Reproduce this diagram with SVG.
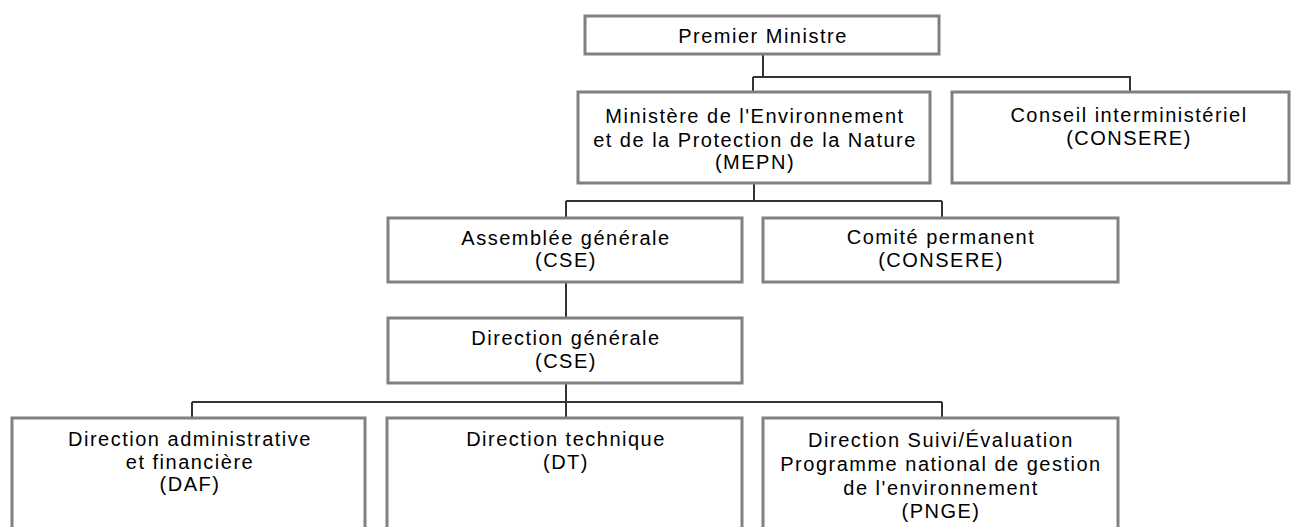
<svg xmlns="http://www.w3.org/2000/svg" width="1292" height="527" viewBox="0 0 1292 527">
<style>
.box{fill:#fff;stroke:#808080;stroke-width:3}
.lbl{font-family:"Liberation Sans",Arial,sans-serif;font-size:20px;letter-spacing:1.5px;fill:#000;text-anchor:middle}
.con{fill:none;stroke:#333;stroke-width:2}
</style>
<rect width="1292" height="527" fill="#fff"/>
<g id="connectors">
<path class="con" d="M763 54V77M753 77H1130V92M753 77V92"/>
<path class="con" d="M754 183V201M566 201H942M566 201V218M942 201V218"/>
<path class="con" d="M566 282V318"/>
<path class="con" d="M566 383V418M192 402H942M192 402V418M942 402V418"/>
</g>
<g id="premier-ministre">
<rect class="box" x="585" y="16" width="354" height="38"/>
<text class="lbl" x="763" y="43">Premier Ministre</text>
</g>
<g id="mepn">
<rect class="box" x="578" y="92" width="352" height="91"/>
<text class="lbl" x="755" y="123">Ministère de l'Environnement</text>
<text class="lbl" x="755" y="147">et de la Protection de la Nature</text>
<text class="lbl" x="755" y="169">(MEPN)</text>
</g>
<g id="conseil">
<rect class="box" x="952" y="92" width="337" height="91"/>
<text class="lbl" x="1129" y="122">Conseil interministériel</text>
<text class="lbl" x="1129" y="145">(CONSERE)</text>
</g>
<g id="assemblee">
<rect class="box" x="388" y="218" width="354" height="64"/>
<text class="lbl" x="566" y="245">Assemblée générale</text>
<text class="lbl" x="566" y="267">(CSE)</text>
</g>
<g id="comite">
<rect class="box" x="763" y="218" width="355" height="64"/>
<text class="lbl" x="941" y="244">Comité permanent</text>
<text class="lbl" x="941" y="267">(CONSERE)</text>
</g>
<g id="direction-generale">
<rect class="box" x="388" y="318" width="354" height="65"/>
<text class="lbl" x="566" y="345">Direction générale</text>
<text class="lbl" x="566" y="368">(CSE)</text>
</g>
<g id="daf">
<rect class="box" x="12" y="418" width="353" height="130"/>
<text class="lbl" x="190" y="446">Direction administrative</text>
<text class="lbl" x="190" y="469">et financière</text>
<text class="lbl" x="190" y="491">(DAF)</text>
</g>
<g id="dt">
<rect class="box" x="387" y="418" width="355" height="130"/>
<text class="lbl" x="566" y="446">Direction technique</text>
<text class="lbl" x="566" y="469">(DT)</text>
</g>
<g id="suivi">
<rect class="box" x="763" y="418" width="355" height="130"/>
<text class="lbl" x="941" y="447">Direction Suivi/Évaluation</text>
<text class="lbl" x="941" y="471">Programme national de gestion</text>
<text class="lbl" x="941" y="495">de l'environnement</text>
<text class="lbl" x="941" y="518">(PNGE)</text>
</g>
</svg>
